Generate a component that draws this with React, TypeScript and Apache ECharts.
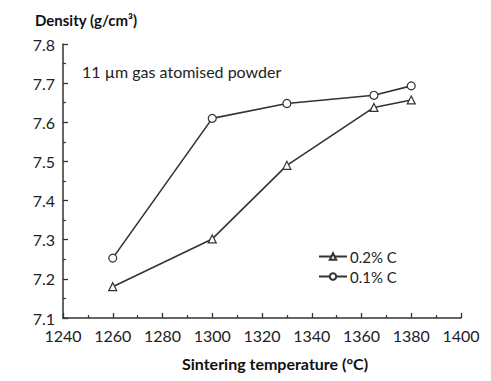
import React, { useEffect, useRef } from "react";
import * as echarts from "echarts";

const temps = [1260, 1300, 1330, 1365, 1380];
const carbon02 = [7.18, 7.302, 7.49, 7.638, 7.657];
const carbon01 = [7.253, 7.61, 7.648, 7.669, 7.693];
const seriesNames = ["0.2% C", "0.1% C"];
const yTitle = "Density (g/cm³)";
const xTitle = "Sintering temperature (°C)";
const note = "11 µm gas atomised powder";

const FONT = "Lato, 'Open Sans', sans-serif";
const INK = "#333333";

export default function App() {
  const ref = useRef<HTMLDivElement>(null);
  useEffect(() => {
    if (!ref.current) return;
    const chart = echarts.init(ref.current, undefined, { renderer: "svg" });
    const mk = (name: string, data: number[], symbol: string) => ({
      name,
      type: "line",
      data: temps.map((t, i) => [t, data[i]]),
      symbol,
      symbolSize: 8,
      showSymbol: true,
      lineStyle: { color: INK, width: 1.6 },
      itemStyle: { color: "#ffffff", borderColor: INK, borderWidth: 1.2 },
    });
    chart.setOption({
      animation: false,
      backgroundColor: "#ffffff",
      textStyle: { fontFamily: FONT },
      grid: { left: 63, right: 30, top: 44, bottom: 63, containLabel: false },
      xAxis: {
        type: "value",
        min: 1240,
        max: 1400,
        interval: 20,
        axisLine: { lineStyle: { color: INK, width: 1.5 } },
        axisTick: { inside: true, length: 5, lineStyle: { color: INK, width: 1.3 } },
        minorTick: { show: true, splitNumber: 2, length: 3, lineStyle: { color: INK, width: 1.2 } },
        splitLine: { show: false },
        axisLabel: {
          color: "#222",
          fontSize: 16,
          margin: 9,
          fontFamily: FONT,
          formatter: (v: number) => String(v),
        },
      },
      yAxis: {
        type: "value",
        min: 7.1,
        max: 7.8,
        interval: 0.1,
        axisLine: { show: true, lineStyle: { color: INK, width: 1.5 } },
        axisTick: { show: true, inside: true, length: 5, lineStyle: { color: INK, width: 1.3 } },
        minorTick: { show: true, splitNumber: 2, length: 3, lineStyle: { color: INK, width: 1.2 } },
        splitLine: { show: false },
        axisLabel: {
          color: "#222",
          fontSize: 16,
          margin: 8,
          fontFamily: FONT,
          formatter: (v: number) => v.toFixed(1),
        },
      },
      legend: {
        left: 313,
        top: 244,
        orient: "vertical",
        itemWidth: 28,
        itemHeight: 8,
        itemGap: 5,
        data: seriesNames,
        textStyle: { color: "#222", fontSize: 15, fontFamily: FONT, padding: [0, 0, 0, -2] },
      },
      graphic: [
        {
          type: "text",
          left: 35,
          top: 12,
          style: { text: yTitle, fill: "#111", font: `bold 15px ${FONT}` },
        },
        {
          type: "text",
          left: 82,
          top: 63,
          style: { text: note, fill: "#222", font: `16px ${FONT}` },
        },
        {
          type: "text",
          left: 182,
          top: 355,
          style: { text: xTitle, fill: "#111", font: `bold 16px ${FONT}` },
        },
      ],
      series: [mk(seriesNames[0], carbon02, "triangle"), mk(seriesNames[1], carbon01, "circle")],
    });
    return () => chart.dispose();
  }, []);
  return (
    <div
      ref={ref}
      style={{ position: "absolute", left: 0, top: 0, width: 491, height: 381 }}
    />
  );
}
